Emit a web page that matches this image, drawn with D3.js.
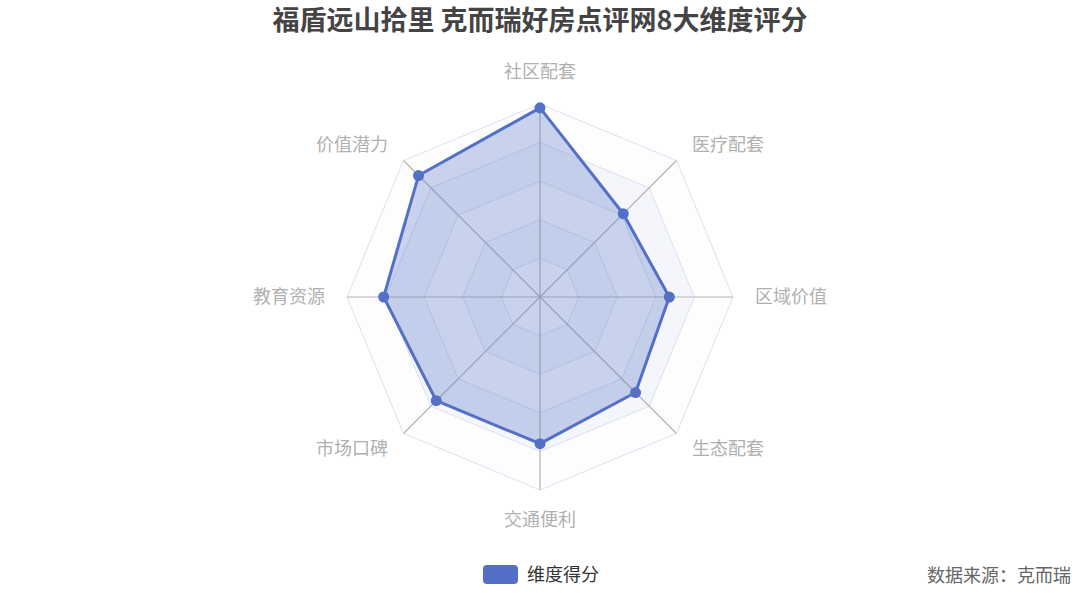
<!DOCTYPE html>
<html><head><meta charset="utf-8">
<script src="https://cdn.jsdelivr.net/npm/d3@7"></script>
<style>body{margin:0;background:#fff;}svg{display:block;font-family:"Noto Sans CJK SC","Noto Sans",sans-serif;}</style>
</head><body><svg id="c" width="1080" height="593"></svg>
<script>
const titleText = "福盾远山拾里 克而瑞好房点评网8大维度评分";
const indicators = ["社区配套","医疗配套","区域价值","生态配套","交通便利","市场口碑","教育资源","价值潜力"];
const scores = [9.8, 6.1, 6.7, 7.0, 7.6, 7.6, 8.1, 8.9];
const maxValue = 10;
const splitCount = 5;
const seriesName = "维度得分";
const sourceText = "数据来源：克而瑞";

const svg = d3.select("#c");
const cx = 540, cy = 297, R = 193;
const n = indicators.length;
const r = d3.scaleLinear().domain([0, maxValue]).range([0, R]);
const ang = d3.scaleLinear().domain([0, n]).range([0, 2*Math.PI]);
const pt = (i, v) => [cx + r(v)*Math.sin(ang(i)), cy - r(v)*Math.cos(ang(i))];

const g = svg.append("g");
const levels = d3.range(1, splitCount+1).map(k => k*maxValue/splitCount);
levels.slice().reverse().forEach((lv, idx) => {
  const k = splitCount - idx;
  g.append("polygon")
    .attr("points", d3.range(n).map(i => pt(i, lv).join(",")).join(" "))
    .attr("fill", k % 2 === 1 ? "#fdfdfe" : "#f4f6fb")
    .attr("stroke", "none");
});
levels.forEach(lv => {
  g.append("polygon")
    .attr("points", d3.range(n).map(i => pt(i, lv).join(",")).join(" "))
    .attr("fill", "none").attr("stroke", "#d9e0f0").attr("stroke-width", 1);
});
d3.range(n).forEach(i => {
  const [x, y] = pt(i, maxValue);
  g.append("line").attr("x1", cx).attr("y1", cy).attr("x2", x).attr("y2", y)
    .attr("stroke", "#b3b3b3").attr("stroke-width", 1.2);
});
const line = d3.lineRadial().angle((d,i)=>ang(i)).radius(d=>r(d)).curve(d3.curveLinearClosed);
g.append("path").attr("transform", `translate(${cx},${cy})`)
  .attr("d", line(scores))
  .attr("fill", "rgba(84,112,198,0.3)")
  .attr("stroke", "#5470c6").attr("stroke-width", 3).attr("stroke-linejoin", "round");
scores.forEach((v, i) => {
  const [x, y] = pt(i, v);
  g.append("circle").attr("cx", x).attr("cy", y).attr("r", 5.5).attr("fill", "#5470c6");
});
indicators.forEach((name, i) => {
  const a = ang(i);
  const d = R + 22;
  const x = cx + d*Math.sin(a), y = cy - d*Math.cos(a);
  const s = Math.sin(a), c = Math.cos(a);
  let anchor = Math.abs(s) < 0.01 ? "middle" : (s > 0 ? "start" : "end");
  let dy = "0.35em";
  if (Math.abs(s) < 0.01) dy = c > 0 ? "-0.2em" : "0.75em";
  svg.append("text").attr("x", x).attr("y", y).attr("dy", dy)
    .attr("text-anchor", anchor).attr("font-size", 18).attr("fill", "#b0b0b0").text(name);
});
svg.append("text").attr("x", 540).attr("y", 30).attr("text-anchor", "middle")
  .attr("font-size", 27).attr("font-weight", "bold").attr("fill", "#444").text(titleText);
const lg = svg.append("g");
lg.append("rect").attr("x", 483).attr("y", 565).attr("width", 35).attr("height", 19).attr("rx", 4).attr("fill", "#5470c6");
lg.append("text").attr("x", 527).attr("y", 575).attr("dy", "0.35em").attr("font-size", 18).attr("fill", "#333").text(seriesName);
svg.append("text").attr("x", 1071).attr("y", 576).attr("dy", "0.35em").attr("text-anchor", "end")
  .attr("font-size", 18).attr("fill", "#666").text(sourceText);
</script></body></html>
